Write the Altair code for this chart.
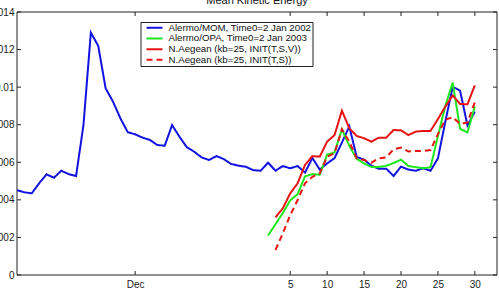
import altair as alt
import pandas as pd

# ---- data ----
series_names = [
    "Alermo/MOM, Time0=2 Jan 2002",
    "Alermo/OPA, Time0=2 Jan 2003",
    "N.Aegean (kb=25, INIT(T,S,V))",
    "N.Aegean (kb=25, INIT(T,S))",
]
series_colors = ["#1212e0", "#1ee61e", "#e81414", "#e81414"]
series_dashes = [[1, 0], [1, 0], [1, 0], [6, 4]]

# day offsets relative to 31 Dec (tick "5" = 5 Jan)
mom_days = list(range(-32, 31))
mom_vals = [
    0.00452, 0.00440, 0.00435, 0.00488, 0.00536, 0.00518, 0.00555, 0.00537,
    0.00527, 0.00798, 0.01290, 0.01220, 0.00994, 0.00923, 0.00834, 0.00760,
    0.00749, 0.00731, 0.00719, 0.00692, 0.00688, 0.00798, 0.00736, 0.00680,
    0.00656, 0.00626, 0.00612, 0.00633, 0.00617, 0.00591, 0.00582, 0.00576,
    0.00558, 0.00555, 0.00598, 0.00555, 0.00580, 0.00568, 0.00580, 0.00545,
    0.00623, 0.00561, 0.00594, 0.00622, 0.00705, 0.00791, 0.00628, 0.00614,
    0.00581, 0.00566, 0.00566, 0.00527, 0.00577, 0.00561, 0.00555, 0.00568,
    0.00555, 0.00621, 0.00816, 0.01002, 0.00981, 0.00796, 0.00869,
]
opa_days = list(range(2, 31))
opa_vals = [
    0.00211, 0.00270, 0.00330, 0.00397, 0.00430, 0.00525, 0.00537, 0.00534,
    0.00641, 0.00653, 0.00776, 0.00688, 0.00618, 0.00594, 0.00575, 0.00575,
    0.00581, 0.00596, 0.00614, 0.00580, 0.00574, 0.00568, 0.00574, 0.00740,
    0.00900, 0.01024, 0.00778, 0.00759, 0.00897,
]
tsv_days = list(range(3, 31))
tsv_vals = [
    0.00307, 0.00355, 0.00435, 0.00488, 0.00586, 0.00633, 0.00630, 0.00710,
    0.00745, 0.00875, 0.00781, 0.00740, 0.00728, 0.00710, 0.00731, 0.00731,
    0.00772, 0.00770, 0.00745, 0.00763, 0.00767, 0.00767, 0.00830, 0.00896,
    0.00956, 0.00910, 0.00909, 0.01010,
]
ts_days = list(range(3, 31))
ts_vals = [
    0.00133, 0.00222, 0.00319, 0.00399, 0.00488, 0.00523, 0.00541, 0.00630,
    0.00648, 0.00776, 0.00710, 0.00621, 0.00612, 0.00598, 0.00621, 0.00626,
    0.00669, 0.00678, 0.00658, 0.00660, 0.00660, 0.00665, 0.00750, 0.00827,
    0.00840, 0.00804, 0.00812, 0.00920,
]

x_ticks = [-16, 5, 10, 15, 20, 25, 30]
y_ticks = [0, 0.002, 0.004, 0.006, 0.008, 0.010, 0.012, 0.014]

# ---- build tables ----
rows = []
for name, days, vals in zip(series_names,
                            [mom_days, opa_days, tsv_days, ts_days],
                            [mom_vals, opa_vals, tsv_vals, ts_vals]):
    for d, v in zip(days, vals):
        rows.append({"series": name, "day": d, "ke": v})
df = pd.DataFrame(rows)
xt = pd.DataFrame({"v": x_ticks})
yt = pd.DataFrame({"v": y_ticks})
frame_df = pd.DataFrame({"k": [0]})

FONT = "Liberation Sans"
W, H = 480, 263

xscale = alt.Scale(domain=[-32, 33], nice=False, zero=False)
yscale = alt.Scale(domain=[0, 0.014], nice=False)
xaxis = alt.Axis(values=x_ticks, title=None, ticks=False, domain=False, grid=False,
                 labelExpr="datum.value < 0 ? 'Dec' : format(datum.value, 'd')",
                 labelFont=FONT, labelFontSize=10, labelColor="#222", labelPadding=4)
yaxis = alt.Axis(values=y_ticks, title=None, ticks=False, domain=False, grid=False,
                 format="~g", labelFont=FONT, labelFontSize=10, labelColor="#222",
                 labelPadding=3)

legend = alt.Legend(title=None, orient="none", legendX=123.5, legendY=10,
                    padding=1, clipHeight=9.5, rowPadding=-0.3,
                    strokeColor="#222", fillColor="white",
                    symbolType="stroke", symbolSize=256, symbolStrokeWidth=2,
                    symbolOffset=4,
                    labelFont=FONT, labelFontSize=9.7, labelColor="#111",
                    labelOffset=5, labelLimit=400)

lines = alt.Chart(df).mark_line(strokeWidth=2, clip=True).encode(
    x=alt.X("day:Q", scale=xscale, axis=xaxis),
    y=alt.Y("ke:Q", scale=yscale, axis=yaxis),
    color=alt.Color("series:N", scale=alt.Scale(domain=series_names, range=series_colors),
                    legend=legend),
    strokeDash=alt.StrokeDash("series:N",
                              scale=alt.Scale(domain=series_names, range=series_dashes),
                              legend=legend),
    order=alt.Order("day:Q"),
)

tick_col = "#222"
bottom_ticks = alt.Chart(xt).mark_rule(color=tick_col, strokeWidth=1).encode(
    x=alt.X("v:Q", scale=xscale, axis=xaxis), y=alt.value(H), y2=alt.value(H - 4))
top_ticks = alt.Chart(xt).mark_rule(color=tick_col, strokeWidth=1).encode(
    x=alt.X("v:Q", scale=xscale, axis=xaxis), y=alt.value(0), y2=alt.value(4))
left_ticks = alt.Chart(yt).mark_rule(color=tick_col, strokeWidth=1).encode(
    y=alt.Y("v:Q", scale=yscale, axis=yaxis), x=alt.value(0), x2=alt.value(4))
right_ticks = alt.Chart(yt).mark_rule(color=tick_col, strokeWidth=1).encode(
    y=alt.Y("v:Q", scale=yscale, axis=yaxis), x=alt.value(W), x2=alt.value(W - 4))
frame = alt.Chart(frame_df).mark_rect(fillOpacity=0, stroke="#222", strokeWidth=1).encode(
    x=alt.value(0), x2=alt.value(W), y=alt.value(0), y2=alt.value(H))

chart = alt.layer(frame, lines, bottom_ticks, top_ticks, left_ticks, right_ticks).properties(
    width=W, height=H,
    title=alt.TitleParams("Mean Kinetic Energy", font=FONT, fontSize=11,
                          fontWeight="normal", color="#111", anchor="middle", offset=1),
    autosize=alt.AutoSizeParams(type="none"),
    padding={"left": 17, "top": 12, "right": 2, "bottom": 16},
    background="white",
).configure_view(stroke=None)

chart.save("out.html", embed_options={"renderer": "svg", "actions": False})
